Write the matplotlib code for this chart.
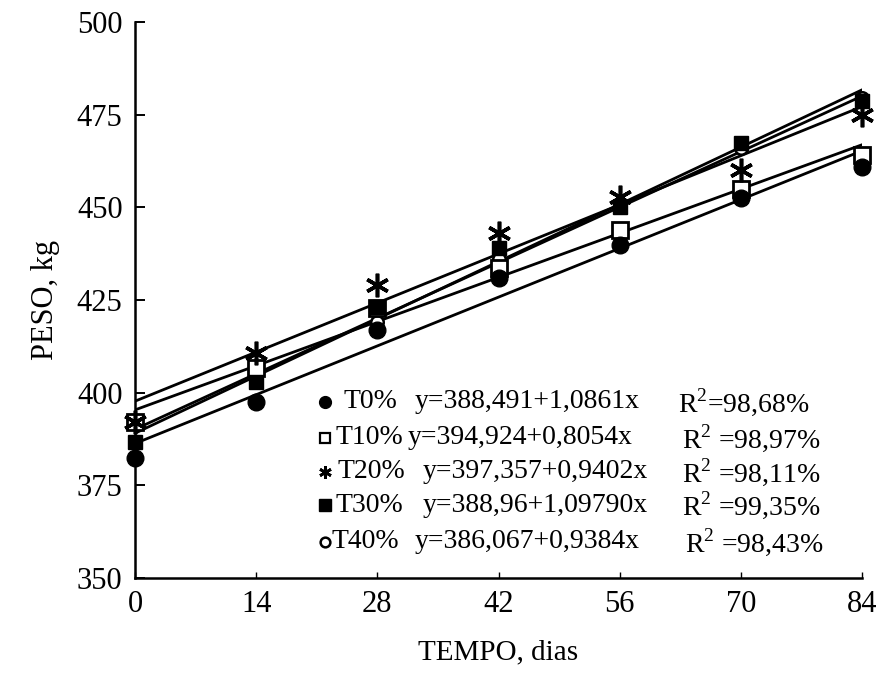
"""Peso vivo x tempo, tratamentos T0%..T40% com retas ajustadas."""

import matplotlib

matplotlib.use("Agg")
import matplotlib.pyplot as plt
import numpy as np

plt.rcParams["font.family"] = ["Liberation Serif", "DejaVu Serif"]
plt.rcParams["mathtext.fontset"] = "custom"
plt.rcParams["mathtext.rm"] = "Liberation Serif"

# dados
dias = [0, 14, 28, 42, 56, 70, 84]
t0 = [382.3, 397.4, 416.8, 430.9, 439.8, 452.4, 460.8]
t10 = [392.0, 406.6, 422.8, 433.6, 443.8, 455.0, 464.0]
t20 = [392.0, 410.6, 429.0, 443.0, 452.7, 460.0, 474.8]
t30 = [386.7, 402.8, 423.0, 439.0, 450.0, 467.3, 478.8]
t40 = [392.0, 403.0, 419.0, 436.0, 450.0, 466.0, 479.5]

nomes = ["T0%", "T10%", "T20%", "T30%", "T40%"]
equacoes = [
    "y=388,491+1,0861x",
    "y=394,924+0,8054x",
    "y=397,357+0,9402x",
    "y=388,96+1,09790x",
    "y=386,067+0,9384x",
]
r2 = ["R$^2$=98,68%", "R$^2$ =98,97%", "R$^2$ =98,11%", "R$^2$ =99,35%", "R$^2$ =98,43%"]

series = [t0, t10, t20, t30, t40]
estilos = [
    dict(marker="o", ms=12, mfc="black", mec="black", mew=1),
    dict(marker="s", ms=11, mfc="white", mec="black", mew=2),
    dict(marker=(6, 2, 0), ms=17, mfc="black", mec="black", mew=2.6),
    dict(marker="s", ms=10.5, mfc="black", mec="black", mew=1),
    dict(marker="o", ms=9, mfc="white", mec="black", mew=1.8),
]
ordem_z = [5, 4, 6, 5.5, 3]

W, H = 882, 678
fig = plt.figure(figsize=(W / 100, H / 100), dpi=100)
L, R, T, B = 135, 862, 22, 578
ax = fig.add_axes([L / W, 1 - B / H, (R - L) / W, (B - T) / H])

x = np.array(dias, dtype=float)
xx = np.array([0, 84], dtype=float)
for vals, st, z in zip(series, estilos, ordem_z):
    a, b = np.polyfit(x, vals, 1)
    ax.plot(xx, a * xx + b, color="black", lw=2, zorder=2)
    ax.plot(x, vals, ls="none", clip_on=False, zorder=z, **st)

ax.set_xlim(0, 84)
ax.set_ylim(350, 500)
ax.set_xticks(dias)
ax.set_yticks(np.arange(350, 501, 25))
ax.spines["top"].set_visible(False)
ax.spines["right"].set_visible(False)
for s in ("left", "bottom"):
    ax.spines[s].set_linewidth(1.8)
ax.tick_params(axis="y", direction="in", length=7, width=1.4, labelsize=22, pad=9)
ax.tick_params(axis="x", direction="in", length=4, width=1, labelsize=22, pad=9)
ax.set_xlabel("TEMPO, dias", fontsize=21, labelpad=14)
ax.set_ylabel("PESO, kg", fontsize=22, labelpad=12)

# legenda manual (posicoes em pixels da figura)
linhas_y = [402, 438, 472, 505, 542]
texto_x = [343, 335, 337, 335, 332]
eq_x = [415, 408, 423, 423, 415]
r2_x = [678, 682, 682, 682, 685]
leg_est = [
    dict(marker="o", ms=8.5, mfc="black", mec="black", mew=1),
    dict(marker="s", ms=7, mfc="white", mec="black", mew=1.6),
    dict(marker=(6, 2, 0), ms=9, mfc="black", mec="black", mew=2),
    dict(marker="s", ms=8, mfc="black", mec="black", mew=1),
    dict(marker="o", ms=7, mfc="white", mec="black", mew=1.8),
]
for i in range(5):
    yf = 1 - linhas_y[i] / H
    fig.lines.append(
        matplotlib.lines.Line2D([325 / W], [yf], transform=fig.transFigure, ls="none", **leg_est[i])
    )
    fig.text(texto_x[i] / W, yf, nomes[i], fontsize=20, va="center", ha="left")
    fig.text(eq_x[i] / W, yf, equacoes[i], fontsize=20, va="center", ha="left")
    fig.text(r2_x[i] / W, yf, r2[i], fontsize=20, va="center", ha="left")

fig.savefig("out.png", dpi=100)
